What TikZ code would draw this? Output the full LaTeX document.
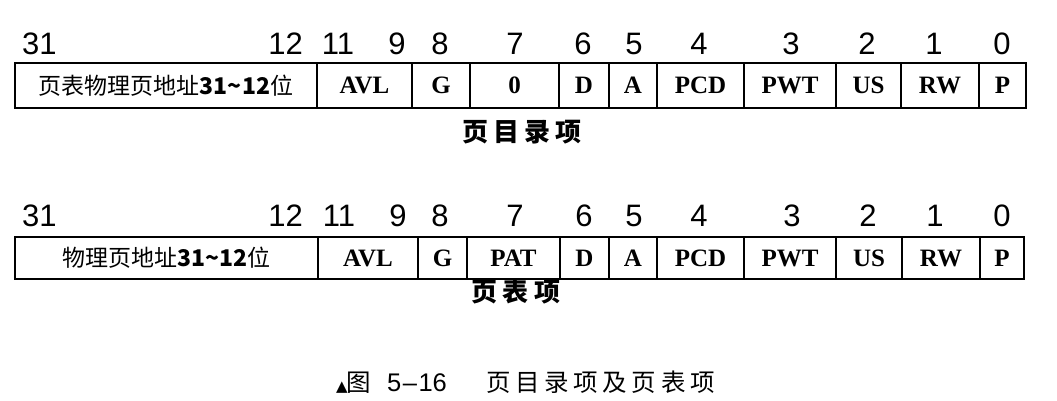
\documentclass[tikz,border=0pt]{standalone}
\usepackage{fontspec}
\setmainfont{Liberation Serif}
\newfontfamily\digitfont{Liberation Sans}
\newfontfamily\cjk{Noto Sans CJK SC}
\newfontfamily\symfont{DejaVu Sans}
\begin{document}
\begin{tikzpicture}[x=1pt,y=-1pt,
  cell/.style={draw, line width=1.3pt, inner sep=0pt, outer sep=0pt,
    font=\fontsize{25}{25}\selectfont\bfseries},
  bit/.style={inner sep=0pt, font=\digitfont\fontsize{31}{31}\selectfont},
  cjklabel/.style={inner sep=0pt, font=\cjk\fontsize{23}{23}\selectfont},
  title/.style={inner sep=0pt, font=\cjk\bfseries\fontsize{26}{26}\selectfont\addfontfeature{LetterSpace=20}},
  caption/.style={inner sep=0pt, font=\cjk\fontsize{24.5}{24.5}\selectfont}
]
\useasboundingbox (0,0) rectangle (1057,400);
\fill[white] (0,0) rectangle (1057,400);

% ---------- row 1: page directory entry ----------
\node[cell, minimum width=302pt, minimum height=45pt] (a-addr) at (166,85.5) {};
\node[cjklabel] (a-addrtext) at (a-addr.center) {页表物理页地址{\bfseries 31\textasciitilde12}位};
\foreach \nm/\l/\r/\txt in {avl/317/412/AVL, g/412/470/G, z/470/559/0, d/559/609/D,
  a/609/657/A, pcd/657/744/PCD, pwt/744/836/PWT, us/836/901/US, rw/901/979/RW, p/979/1026/P}{
  \pgfmathsetmacro\w{\r-\l}\pgfmathsetmacro\c{(\l+\r)/2}
  \node[cell, minimum width=\w pt, minimum height=45pt] (a-\nm) at (\c,85.5) {\txt};
}
\node[bit, anchor=west] (a-b31) at (22,44) {31};
\node[bit, anchor=east] (a-b12) at (303,44) {12};
\node[bit] (a-b11) at (338,44) {11};
\node[bit] (a-b9) at (397,44) {9};
\node[bit] (a-b8) at (440,44) {8};
\node[bit] (a-b7) at (515,44) {7};
\node[bit] (a-b6) at (583,44) {6};
\node[bit] (a-b5) at (634,44) {5};
\node[bit] (a-b4) at (699,44) {4};
\node[bit] (a-b3) at (791,44) {3};
\node[bit] (a-b2) at (867,44) {2};
\node[bit] (a-b1) at (934,44) {1};
\node[bit] (a-b0) at (1002,44) {0};
\node[title] (a-title) at (522,132) {页目录项};

% ---------- row 2: page table entry ----------
\node[cell, minimum width=303pt, minimum height=42pt] (b-addr) at (166.5,258) {};
\node[cjklabel] (b-addrtext) at (b-addr.center) {物理页地址{\bfseries 31\textasciitilde12}位};
\foreach \nm/\l/\r/\txt in {avl/318/418/AVL, g/418/467/G, pat/467/560/PAT, d/560/609/D,
  a/609/657/A, pcd/657/744/PCD, pwt/744/836/PWT, us/836/902/US, rw/902/980/RW, p/980/1024/P}{
  \pgfmathsetmacro\w{\r-\l}\pgfmathsetmacro\c{(\l+\r)/2}
  \node[cell, minimum width=\w pt, minimum height=42pt] (b-\nm) at (\c,258) {\txt};
}
\node[bit, anchor=west] (b-b31) at (22,216) {31};
\node[bit, anchor=east] (b-b12) at (303,216) {12};
\node[bit] (b-b11) at (339,216) {11};
\node[bit] (b-b9) at (398,216) {9};
\node[bit] (b-b8) at (440,216) {8};
\node[bit] (b-b7) at (515,216) {7};
\node[bit] (b-b6) at (584,216) {6};
\node[bit] (b-b5) at (634,216) {5};
\node[bit] (b-b4) at (699,216) {4};
\node[bit] (b-b3) at (792,216) {3};
\node[bit] (b-b2) at (868,216) {2};
\node[bit] (b-b1) at (935,216) {1};
\node[bit] (b-b0) at (1002,216) {0};
\node[title] (b-title) at (516,292) {页表项};

% ---------- caption ----------
\node[caption, anchor=west] (cap) at (336,382)
  {\makebox[10pt][l]{\symfont\fontsize{15}{15}\selectfont ▲}%
   \makebox[41pt][l]{图}%
   \makebox[99pt][l]{\digitfont\fontsize{25.5}{25.5}\selectfont 5\hspace{1.5pt}–\hspace{1.5pt}16}%
   {\addfontfeature{LetterSpace=19}页目录项及页表项}};
\end{tikzpicture}
\end{document}
